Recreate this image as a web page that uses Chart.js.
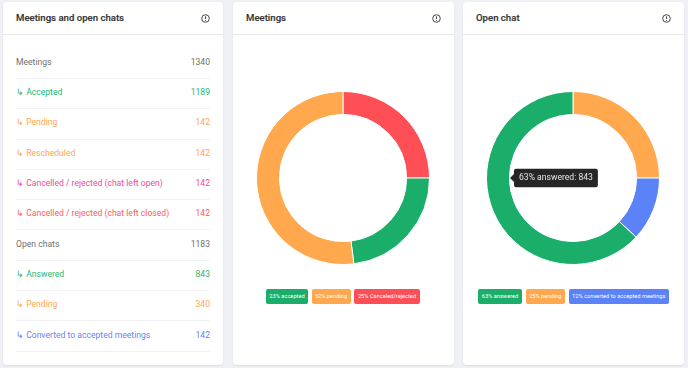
<!DOCTYPE html>
<html><head><meta charset="utf-8">
<script src="https://cdn.jsdelivr.net/npm/chart.js@4"></script>
<style>
html,body{margin:0;padding:0;background:#f0f1f6;width:688px;height:368px;overflow:hidden;font-family:Roboto,sans-serif}
.card{position:absolute;top:2px;height:363px;background:#fff;border-radius:4px;box-shadow:0 1px 2px rgba(40,45,80,.10);box-sizing:border-box}
.head{height:32px;border-bottom:1px solid #e8e9ee;font-size:9.6px;font-weight:500;color:#333;line-height:32px;padding-left:13px;position:relative;-webkit-text-stroke:.15px #333}
.head svg{position:absolute;right:13px;top:12px}
.row{position:absolute;left:13px;width:194px;height:30.3px;box-sizing:border-box;border-bottom:1px solid #f2f2f4;display:flex;justify-content:space-between;align-items:center;font-size:8.6px;padding-bottom:3px;white-space:nowrap}
canvas{position:absolute}
.legend{position:absolute;top:287px;display:flex;gap:3.5px}
.legend span{height:15px;line-height:15px;border-radius:2px;color:#fff;font-size:5.7px;text-align:center;white-space:nowrap;box-shadow:0 0 0 .5px rgba(255,255,255,.7)}
</style></head><body>
<div class="card" style="left:3px;width:220px"><div class="head">Meetings and open chats<svg width="9" height="9" viewBox="0 0 18 18"><circle cx="9" cy="9" r="7.6" fill="none" stroke="#333" stroke-width="1.8"/><path d="M9 4.6v5.4M9 12v1.8" stroke="#333" stroke-width="1.8"/></svg></div><div id="rows"></div></div>
<div class="card" style="left:233px;width:221px"><div class="head">Meetings<svg width="9" height="9" viewBox="0 0 18 18"><circle cx="9" cy="9" r="7.6" fill="none" stroke="#333" stroke-width="1.8"/><path d="M9 4.6v5.4M9 12v1.8" stroke="#333" stroke-width="1.8"/></svg></div>
<canvas id="c1" width="174" height="174" style="left:23px;top:89px;width:174px;height:174px"></canvas><div class="legend" id="l1" style="left:33px"></div></div>
<div class="card" style="left:463px;width:221px"><div class="head">Open chat<svg width="9" height="9" viewBox="0 0 18 18"><circle cx="9" cy="9" r="7.6" fill="none" stroke="#333" stroke-width="1.8"/><path d="M9 4.6v5.4M9 12v1.8" stroke="#333" stroke-width="1.8"/></svg></div>
<canvas id="c2" width="174" height="174" style="left:23px;top:89px;width:174px;height:174px"></canvas><div class="legend" id="l2" style="left:15px"></div></div>
<script>
const rowLabels=["Meetings","↳ Accepted","↳ Pending","↳ Rescheduled","↳ Cancelled / rejected (chat left open)","↳ Cancelled / rejected (chat left closed)","Open chats","↳ Answered","↳ Pending","↳ Converted to accepted meetings"];
const rowValues=[1340,1189,142,142,142,142,1183,843,340,142];
const rowColors=["#6f6f6f","#25b677","#ffa54f","#ffa54f","#f2479f","#ff5a60","#6f6f6f","#25b677","#ffa54f","#5f86f7"];
const meetLabels=["25% Canceled/rejected","23% accepted","52% pending"];
const meetPercents=[25,23,52];
const meetCounts=[142,1189,142];
const meetColors=["#ff4f56","#1bae6a","#ffa84d"];
const meetLegendOrder=[1,2,0];
const meetLegendWidths=[42,39,66];
const chatLabels=["25% pending","12% converted to accepted meetings","63% answered"];
const chatPercents=[25,12,63];
const chatCounts=[340,142,843];
const chatColors=["#ffa84d","#5b82f7","#1bae6a"];
const chatLegendOrder=[2,0,1];
const chatLegendWidths=[44,39.5,100.5];

const rowsEl=document.getElementById('rows');
rowLabels.forEach((t,i)=>{const d=document.createElement('div');d.className='row';d.style.top=(46.7+i*30.3)+'px';d.style.color=rowColors[i];
 const a=document.createElement('span');a.textContent=t;const b=document.createElement('span');b.textContent=rowValues[i];d.append(a,b);rowsEl.append(d);});
function legend(id,labels,colors,order,widths){const el=document.getElementById(id);order.forEach((k,i)=>{const s=document.createElement('span');s.textContent=labels[k];s.style.background=colors[k];s.style.width=widths[i]+'px';el.append(s);});}
legend('l1',meetLabels,meetColors,meetLegendOrder,meetLegendWidths);
legend('l2',chatLabels,chatColors,chatLegendOrder,chatLegendWidths);

Chart.Tooltip.positioners.fixedLeft=function(){return {x:24,y:87};};
function donut(id,labels,percents,counts,colors){
 return new Chart(document.getElementById(id),{type:'doughnut',
  data:{labels:labels,datasets:[{data:percents,backgroundColor:colors,borderColor:'#fff',borderWidth:1}]},
  options:{responsive:false,animation:false,events:[],cutout:'73.5%',layout:{padding:0},
   plugins:{legend:{display:false},tooltip:{enabled:true,position:'fixedLeft',xAlign:'left',yAlign:'center',displayColors:false,
    backgroundColor:'#262626',bodyColor:'#e6e6e6',cornerRadius:2,caretSize:4,padding:{x:5,y:4},caretPadding:0,
    bodyFont:{family:'Roboto,sans-serif',size:8.6},
    callbacks:{title:()=>'',label:c=>c.label+': '+counts[c.dataIndex]}}}}});
}
donut('c1',meetLabels,meetPercents,meetCounts,meetColors);
const c2=donut('c2',chatLabels,chatPercents,chatCounts,chatColors);
c2.tooltip.setActiveElements([{datasetIndex:0,index:2}],{x:24,y:87});
c2.update();
</script>
</body></html>
